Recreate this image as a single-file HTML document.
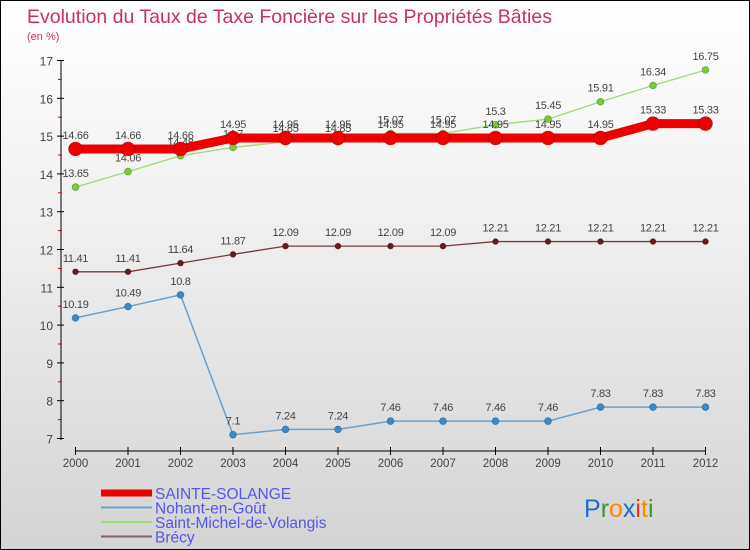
<!DOCTYPE html>
<html><head><meta charset="utf-8"><style>
body{margin:0;width:750px;height:550px;overflow:hidden}
#wrap{position:relative;width:748px;height:548px;border:1px solid #000;background:linear-gradient(#fff 0%,#f2f2f2 35%,#d4d4d4 100%);font-family:"Liberation Sans",sans-serif}
</style></head><body>
<div id="wrap">
<svg id="c" width="748" height="548" style="position:absolute;left:0;top:0">
<text x="26" y="22" font-size="19.5" fill="#c8305f">Evolution du Taux de Taxe Foncière sur les Propriétés Bâties</text>
<text x="26" y="39" font-size="11" fill="#c8305f">(en %)</text>
</svg>
</div>
<script>
const years=["2000","2001","2002","2003","2004","2005","2006","2007","2008","2009","2010","2011","2012"];
const yTicks=[7,8,9,10,11,12,13,14,15,16,17];
const sainteSolange=[14.66,14.66,14.66,14.95,14.95,14.95,14.95,14.95,14.95,14.95,14.95,15.33,15.33];
const nohant=[10.19,10.49,10.8,7.1,7.24,7.24,7.46,7.46,7.46,7.46,7.83,7.83,7.83];
const saintMichel=[13.65,14.06,14.48,14.7,14.85,14.85,15.07,15.07,15.3,15.45,15.91,16.34,16.75];
const brecy=[11.41,11.41,11.64,11.87,12.09,12.09,12.09,12.09,12.21,12.21,12.21,12.21,12.21];
const svg=document.getElementById('c');const NS='http://www.w3.org/2000/svg';
function X(i){return 74.5+i*52.5;}
function Y(v){return 59.5+(17-v)*37.8;}
function mk(t,a,p){const e=document.createElementNS(NS,t);for(const k in a)e.setAttribute(k,a[k]);(p||svg).appendChild(e);return e;}
let ax=mk('line',{x1:60,y1:59,x2:60,y2:439,stroke:'#000','stroke-width':1});


yTicks.forEach(v=>{mk('line',{x1:56,y1:Y(v),x2:63,y2:Y(v),stroke:'#000'});
 if(v<17)mk('line',{x1:57,y1:Y(v+0.5),x2:61,y2:Y(v+0.5),stroke:'#d00'});
 const t=mk('text',{x:52,y:Y(v)+5,'font-size':12,fill:'#444','text-anchor':'end'});t.textContent=v;
 
 });
let xa=mk('line',{x1:74.5,y1:450,x2:705,y2:450,stroke:'#000'});


years.forEach((y,i)=>{mk('line',{x1:X(i),y1:446,x2:X(i),y2:454,stroke:'#000'});
 const t=mk('text',{x:X(i),y:466,'font-size':11.5,fill:'#444','text-anchor':'middle'});t.textContent=y;
 
 });
function series(name,data,color,w,r,dot){
 const g=mk('g',{});
 
 
 mk('polyline',{points:data.map((v,i)=>X(i)+','+Y(v)).join(' '),fill:'none',stroke:color,'stroke-width':w},g);
 data.forEach((v,i)=>{const c=mk('circle',{cx:X(i),cy:Y(v),r:r,fill:dot,stroke:'rgba(0,0,0,0.3)','stroke-width':0.7},g);
  
  
  const t=mk('text',{x:X(i),y:Y(v)-10,'font-size':11,fill:'#444','text-anchor':'middle','letter-spacing':'-0.3'},g);t.textContent=v;
  
  });
}
series('brecy',brecy,'#7a3a3a',1.3,3,'#6a1a1a');
series('nohant',nohant,'#6aa0cc',1.5,3.5,'#3a8ac8');
series('saint-michel',saintMichel,'#99dd77',1.3,3.5,'#77cc33');
series('sainte-solange',sainteSolange,'#ee0000',9,7,'#ee0000');
const leg=[['SAINTE-SOLANGE','#ee0000',7],['Nohant-en-Goût','#6aa0cc',2],['Saint-Michel-de-Volangis','#99dd77',2],['Brécy','#8a6060',2]];
leg.forEach((l,i)=>{const y=492+i*14.5;const g=mk('g',{});
 
 
 mk('line',{x1:100,y1:y,x2:151,y2:y,stroke:l[1],'stroke-width':l[2]},g);
 const t=mk('text',{x:154,y:y+6,'font-size':15.5,fill:'#5555ee'},g);t.textContent=l[0];});
const logo=mk('text',{x:583,y:516,'font-size':25,'font-weight':'normal','font-family':'"Liberation Sans",sans-serif'});


[['P','#1a6ecc'],['r','#339933'],['o','#ff8800'],['x','#1a6ecc'],['i','#ee3311'],['t','#ff8800'],['i','#339933']].forEach(p=>{const s=mk('tspan',{fill:p[1]},logo);s.textContent=p[0];});
</script>
</body></html>
